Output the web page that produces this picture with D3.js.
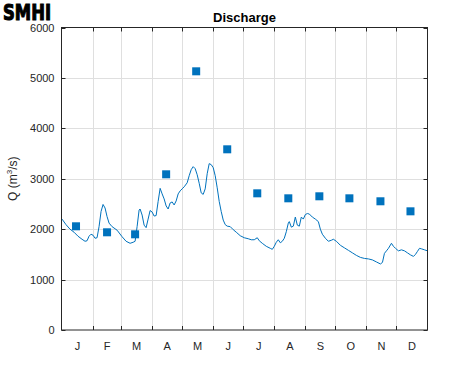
<!DOCTYPE html>
<html>
<head>
<meta charset="utf-8">
<script src="https://cdn.jsdelivr.net/npm/d3@7"></script>
<style>
  body { margin: 0; background: #fff; }
  text { font-family: "Liberation Sans", Arial, sans-serif; fill: #262626; }
</style>
</head>
<body>
<script>
var width = 471,
    height = 371;

// month labels and boundaries (day of year)
var months = ["J", "F", "M", "A", "M", "J", "J", "A", "S", "O", "N", "D"];
var monthStart = [0, 31, 59, 90, 120, 151, 181, 212, 243, 273, 304, 334, 365];
var yTicks = [0, 1000, 2000, 3000, 4000, 5000, 6000];

// monthly means (squares), plotted at day 14 of each month
var monthlyMean = [2057, 1938, 1898, 3088, 5131, 3584, 2711, 2612, 2652, 2612, 2553, 2354];

// daily discharge
var days = [0, 4, 8, 12, 16, 20, 23, 25, 27, 29, 31, 33, 35, 37, 39, 41, 43, 45, 47, 50,
  55, 60, 64, 68, 71, 73, 75, 77, 78, 80, 82, 84, 86, 88, 90, 92, 94, 96, 98, 100,
  102, 104, 106, 108, 110, 112, 114, 116, 118, 120, 122, 125, 127, 129, 131, 133, 135, 137, 139, 141,
  143, 145, 147, 149, 151, 153, 155, 157, 159, 161, 163, 165, 168, 171, 174, 178, 182, 186, 189, 192,
  195, 197, 200, 204, 208, 210, 212, 214, 216, 218, 220, 222, 224, 226, 227, 229, 231, 233, 235, 237,
  239, 241, 243, 245, 247, 250, 253, 256, 258, 260, 263, 266, 269, 271, 274, 278, 282, 286, 290, 294,
  298, 302, 306, 310, 314, 318, 320, 322, 324, 326, 329, 331, 333, 336, 339, 342, 345, 348, 351, 353,
  355, 357, 359, 362, 365];
var flow = [2200, 2090, 2000, 1940, 1860, 1800, 1760, 1770, 1860, 1900, 1880, 1820, 1830, 2050, 2350, 2490, 2420, 2250, 2120, 2050,
  1980, 1850, 1760, 1720, 1740, 1760, 2050, 2380, 2400, 2280, 2080, 2030, 2200, 2370, 2340, 2260, 2270, 2550, 2810, 2700,
  2600, 2460, 2400, 2520, 2540, 2480, 2560, 2700, 2760, 2800, 2840, 2920, 3060, 3180, 3240, 3200, 3080, 2910, 2720, 2690,
  2800, 3100, 3300, 3280, 3220, 3060, 2820, 2550, 2350, 2180, 2090, 2060, 2050, 1990, 1940, 1870, 1830, 1810, 1790, 1790,
  1830, 1770, 1720, 1660, 1620, 1600, 1660, 1740, 1790, 1730, 1760, 1820, 1950, 2120, 2150, 2040, 2060, 2240, 2080, 2060,
  2240, 2200, 2290, 2310, 2300, 2240, 2200, 2150, 2000, 1900, 1820, 1760, 1780, 1800, 1760, 1680, 1630, 1580, 1530, 1480,
  1440, 1420, 1410, 1390, 1350, 1310, 1340, 1520, 1570, 1620, 1720, 1660, 1620, 1570, 1590, 1570, 1530, 1490, 1460, 1500,
  1560, 1620, 1610, 1590, 1570];

var blue = "#0072BD",
    axisColor = "#262626",
    gridColor = "#dfdfdf";

var pLeft = 61.5, pRight = 427.5, pTop = 27.5, pBottom = 330;

var x = d3.scaleLinear().domain([-0.5, 365]).range([pLeft, pRight]);
var y = d3.scaleLinear().domain([0, 6000]).range([pBottom, pTop]);

var svg = d3.select("body").append("svg")
    .attr("width", width)
    .attr("height", height);

// logo: heavy condensed lettering
svg.append("text")
    .attr("transform", "translate(3,20) scale(1,1.25)")
    .attr("textLength", 48)
    .attr("lengthAdjust", "spacingAndGlyphs")
    .style("font-family", "'DejaVu Sans', sans-serif")
    .style("font-weight", "bold")
    .style("font-size", "17px")
    .style("fill", "#000")
    .style("stroke", "#000")
    .style("stroke-width", 0.9)
    .text("SMHI");

// title
svg.append("text")
    .attr("x", (pLeft + pRight) / 2)
    .attr("y", 22)
    .attr("text-anchor", "middle")
    .style("font-weight", "bold")
    .style("font-size", "13px")
    .style("fill", "#000")
    .text("Discharge");

// grid
var grid = svg.append("g").attr("class", "grid");
grid.selectAll(".gx")
    .data(monthStart.slice(1, 12))
  .enter().append("line")
    .attr("x1", function(d) { return Math.round(x(d)) + 0.5; })
    .attr("x2", function(d) { return Math.round(x(d)) + 0.5; })
    .attr("y1", pTop)
    .attr("y2", pBottom)
    .attr("stroke", gridColor);
grid.selectAll(".gy")
    .data(yTicks.slice(1, 6))
  .enter().append("line")
    .attr("x1", pLeft)
    .attr("x2", pRight)
    .attr("y1", function(d) { return Math.round(y(d)) + 0.5; })
    .attr("y2", function(d) { return Math.round(y(d)) + 0.5; })
    .attr("stroke", gridColor);

// daily line
var line = d3.line()
    .x(function(d, i) { return x(days[i]); })
    .y(function(d) { return y(d); });
svg.append("path")
    .datum(flow)
    .attr("d", line)
    .attr("fill", "none")
    .attr("stroke", blue)
    .attr("stroke-width", 1);

// monthly means
svg.selectAll(".mean")
    .data(monthlyMean)
  .enter().append("rect")
    .attr("class", "mean")
    .attr("x", function(d, i) { return x(monthStart[i] + 14) - 4; })
    .attr("y", function(d) { return y(d) - 4; })
    .attr("width", 8)
    .attr("height", 8)
    .attr("fill", blue);

// axes box
var ax = svg.append("g").attr("stroke", axisColor).attr("fill", "none");
ax.append("rect")
    .attr("x", pLeft)
    .attr("y", pTop)
    .attr("width", pRight - pLeft)
    .attr("height", pBottom - pTop)
    .attr("stroke-width", 1);

// x ticks (inward, bottom and top)
monthStart.slice(1, 12).forEach(function(d) {
  var xx = Math.round(x(d)) + 0.5;
  ax.append("line").attr("x1", xx).attr("x2", xx).attr("y1", pBottom).attr("y2", pBottom - 4);
  ax.append("line").attr("x1", xx).attr("x2", xx).attr("y1", pTop).attr("y2", pTop + 4);
});
// y ticks (inward, left and right)
yTicks.forEach(function(d) {
  var yy = Math.round(y(d)) + 0.5;
  ax.append("line").attr("x1", pLeft).attr("x2", pLeft + 4).attr("y1", yy).attr("y2", yy);
  ax.append("line").attr("x1", pRight).attr("x2", pRight - 4).attr("y1", yy).attr("y2", yy);
});

// tick labels
svg.selectAll(".ylab")
    .data(yTicks)
  .enter().append("text")
    .attr("x", pLeft - 7)
    .attr("y", function(d) { return y(d) + 4; })
    .attr("text-anchor", "end")
    .style("font-size", "11px")
    .text(function(d) { return d; });

svg.selectAll(".xlab")
    .data(months)
  .enter().append("text")
    .attr("x", function(d, i) { return x((monthStart[i] + monthStart[i + 1]) / 2); })
    .attr("y", 350)
    .attr("text-anchor", "middle")
    .style("font-size", "11px")
    .text(function(d) { return d; });

// y label
var yl = svg.append("text")
    .attr("transform", "translate(17," + ((pTop + pBottom) / 2) + ") rotate(-90)")
    .attr("text-anchor", "middle")
    .style("font-size", "12px");
yl.append("tspan").text("Q (m");
yl.append("tspan").attr("dy", -5).style("font-size", "8px").text("3");
yl.append("tspan").attr("dy", 5).text("/s)");
</script>
</body>
</html>
